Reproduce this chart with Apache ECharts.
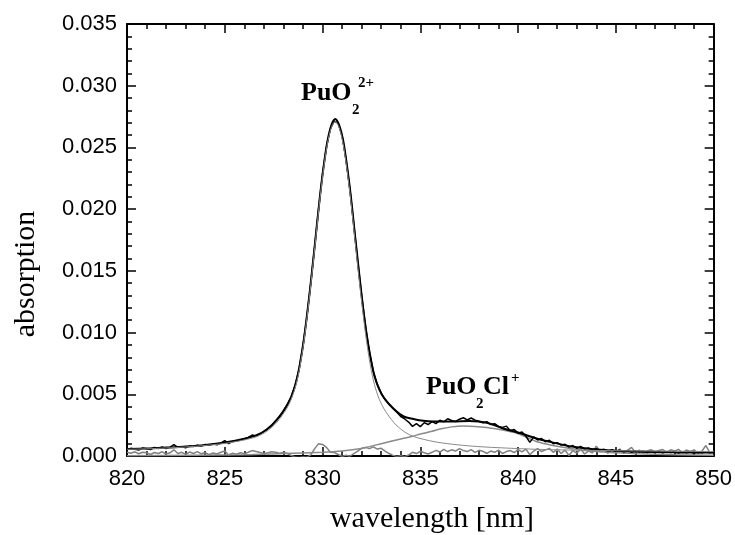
<!DOCTYPE html>
<html>
<head>
<meta charset="utf-8">
<script src="https://cdn.jsdelivr.net/npm/echarts@6/dist/echarts.min.js"></script>
<style>
html,body{margin:0;padding:0;background:#fff;}
#chart{width:735px;height:535px;}
</style>
</head>
<body>
<div id="chart"></div>
<script>
// ---- data ----
const xTicks = [820, 825, 830, 835, 840, 845, 850];
const yTicks = [0.000, 0.005, 0.010, 0.015, 0.020, 0.025, 0.030, 0.035];

// measured spectrum sampled every 0.2 nm, 820.0 ... 850.0 (one row per nm)
const measStart = 820.0, measStep = 0.2;
const measured = [
  0.00050,0.00062,0.00055,0.00048,0.00066, // 820
  0.00058,0.00052,0.00070,0.00061,0.00074, // 821
  0.00060,0.00072,0.00092,0.00070,0.00074, // 822
  0.00066,0.00082,0.00076,0.00088,0.00080, // 823
  0.00094,0.00086,0.00098,0.00090,0.00104, // 824
  0.00125,0.00100,0.00118,0.00122,0.00130, // 825
  0.00138,0.00150,0.00170,0.00162,0.00180, // 826
  0.00200,0.00222,0.00248,0.00285,0.00318, // 827
  0.00366,0.00420,0.00482,0.00575,0.00705, // 828
  0.00895,0.01128,0.01405,0.01700,0.02005, // 829
  0.02285,0.02505,0.02650,0.02715,0.02695, // 830
  0.02595,0.02405,0.02160,0.01875,0.01575, // 831
  0.01300,0.01045,0.00840,0.00685,0.00580, // 832
  0.00510,0.00455,0.00418,0.00385,0.00355, // 833
  0.00320,0.00300,0.00275,0.00240,0.00262, // 834
  0.00238,0.00270,0.00255,0.00278,0.00262, // 835
  0.00290,0.00276,0.00302,0.00288,0.00280, // 836
  0.00298,0.00310,0.00292,0.00308,0.00290, // 837
  0.00282,0.00270,0.00278,0.00255,0.00262, // 838
  0.00240,0.00232,0.00242,0.00205,0.00215, // 839
  0.00185,0.00195,0.00160,0.00110,0.00155, // 840
  0.00130,0.00142,0.00115,0.00128,0.00100, // 841
  0.00108,0.00088,0.00095,0.00072,0.00085, // 842
  0.00062,0.00078,0.00058,0.00066,0.00050, // 843
  0.00060,0.00046,0.00054,0.00040,0.00052, // 844
  0.00038,0.00046,0.00034,0.00044,0.00030, // 845
  0.00040,0.00032,0.00038,0.00028,0.00036, // 846
  0.00030,0.00034,0.00026,0.00034,0.00028, // 847
  0.00032,0.00024,0.00030,0.00026,0.00032, // 848
  0.00024,0.00030,0.00026,0.00034,0.00026, // 849
  0.00030                                  // 850
];

// residual (gray noisy line), same sampling
const residual = [
  0.00030,0.00022,0.00034,0.00018,0.00030, // 820
  0.00026,0.00012,0.00028,0.00020,0.00034, // 821
  0.00016,0.00026,0.00050,0.00020,0.00030, // 822
  0.00014,0.00032,0.00020,0.00036,0.00018, // 823
  0.00028,0.00010,0.00024,0.00016,0.00030, // 824
  0.00040,0.00008,0.00022,0.00014,0.00026, // 825
  0.00018,0.00030,0.00044,0.00036,0.00028, // 826
  0.00020,0.00026,0.00034,0.00030,0.00022, // 827
  0.00028,0.00020,0.00004,-0.00008,-0.00012, // 828
  -0.00006,-0.00010,0.00010,0.00060,0.00100, // 829
  0.00094,0.00070,0.00030,0.00028,0.00012, // 830
  -0.00004,0.00006,-0.00002,0.00020,0.00040, // 831
  0.00062,0.00070,0.00060,0.00074,0.00056, // 832
  0.00062,0.00040,0.00020,0.00005,-0.00004, // 833
  0.00002,-0.00006,0.00008,0.00030,0.00020, // 834
  0.00038,0.00026,0.00016,0.00030,0.00046, // 835
  0.00032,0.00054,0.00036,0.00050,0.00040, // 836
  0.00060,0.00044,0.00036,0.00052,0.00030, // 837
  0.00046,0.00038,0.00022,0.00040,0.00030, // 838
  0.00048,0.00020,0.00036,0.00044,0.00028, // 839
  0.00052,0.00034,0.00056,0.00010,0.00040, // 840
  0.00060,0.00036,0.00050,0.00062,0.00030, // 841
  0.00056,0.00020,0.00048,0.00004,0.00044, // 842
  0.00024,0.00054,0.00016,0.00040,0.00026, // 843
  0.00080,0.00036,0.00044,0.00022,0.00050, // 844
  0.00030,0.00056,0.00020,0.00046,0.00070, // 845
  0.00028,0.00048,0.00024,0.00040,0.00050, // 846
  0.00036,0.00044,0.00052,0.00030,0.00050, // 847
  0.00040,0.00054,0.00026,0.00048,0.00036, // 848
  0.00050,0.00024,0.00040,0.00085,0.00030, // 849
  0.00036                                  // 850
];

// PuO2(2+) component fit (thin gray)
const fit1X = [820,821,822,823,824,825,826,826.65,827.15,827.65,828.15,828.4,828.65,828.85,829.05,829.25,829.45,829.65,829.85,830.05,830.25,830.45,830.65,830.85,831.05,831.25,831.45,831.65,831.85,832.05,832.25,832.45,832.65,832.9,833.15,833.65,834.15,834.65,835.65,836.65,837.65,838.65,840.65,842.65,845.65,850];
const fit1Y = [0.00054,0.00058,0.00065,0.00073,0.00085,0.00102,0.00130,0.00158,0.0020,0.0027,0.0038,0.0046,0.0058,0.0073,0.0093,0.0118,0.0146,0.0176,0.0206,0.0232,0.0253,0.0266,0.0271,0.0266,0.0253,0.0232,0.0206,0.0176,0.0146,0.0118,0.0093,0.0073,0.0058,0.0046,0.0038,0.0027,0.0020,0.00158,0.00118,0.00095,0.0008,0.0007,0.00056,0.00048,0.00042,0.00036];

// PuO2Cl(+) component fit (gray)
const fit2X = [820,826,828,830,831,832,832.4,833,834,834.6,835,835.6,836,836.6,837.2,837.8,838.4,839.2,840,840.9,841.5,842.3,843,844,845,846,848,850];
const fit2Y = [0.00002,0.0001,0.0002,0.0003,0.0004,0.0006,0.00076,0.0010,0.00138,0.0016,0.00178,0.0020,0.00218,0.00236,0.00244,0.0024,0.0023,0.0021,0.0018,0.0012,0.00095,0.0007,0.00052,0.00036,0.00026,0.00018,0.0001,0.00006];

// total fit (black smooth)
const fitTX = [820,821,822,823,824,825,826,826.65,827.15,827.65,828.15,828.4,828.65,828.85,829.05,829.25,829.45,829.65,829.85,830.05,830.25,830.45,830.65,830.85,831.05,831.25,831.45,831.65,831.85,832.05,832.25,832.45,832.65,832.9,833.15,833.65,834.15,834.65,835.15,835.65,836.65,837.5,838.4,839.2,840,840.9,841.5,842.3,843,844,845,846,848,850];
const fitTY = [0.00056,0.0006,0.00068,0.00077,0.0009,0.0011,0.0014,0.0017,0.00215,0.0029,0.0040,0.0048,0.0060,0.0075,0.0095,0.0120,0.0148,0.0178,0.0208,0.0234,0.0255,0.0268,0.0273,0.0268,0.0256,0.0235,0.0210,0.0180,0.0151,0.0123,0.0099,0.0080,0.0065,0.0054,0.0047,0.0038,0.0032,0.0030,0.00285,0.0028,0.0028,0.00284,0.0027,0.00225,0.0019,0.00144,0.0012,0.0009,0.0007,0.00052,0.00042,0.00036,0.0003,0.00028];

// ---- build series data ----
const pairs = (xs, ys) => xs.map((x, i) => [x, ys[i]]);
const sampled = ys => ys.map((y, i) => [+(measStart + i * measStep).toFixed(1), y]);

const chart = echarts.init(document.getElementById('chart'), null, {renderer: 'canvas'});

const axisLineStyle = {color: '#000', width: 2};
function xAx(pos, showLabel) {
  return {
    type: 'value', min: 820, max: 850, interval: 5, position: pos,
    axisLine: {show: true, onZero: false, lineStyle: axisLineStyle},
    axisTick: {show: true, inside: true, length: 9, lineStyle: {color: '#000', width: 1.5}},
    minorTick: {show: true, splitNumber: 5, length: 5, lineStyle: {color: '#000', width: 1.5}},
    axisLabel: {show: showLabel, color: '#000', fontSize: 22, fontFamily: 'Liberation Sans, Arial', margin: 12},
    splitLine: {show: false}, minorSplitLine: {show: false}
  };
}
function yAx(pos, showLabel) {
  return {
    type: 'value', min: 0, max: 0.035, interval: 0.005, position: pos,
    axisLine: {show: true, onZero: false, lineStyle: axisLineStyle},
    axisTick: {show: true, inside: true, length: 9, lineStyle: {color: '#000', width: 1.5}},
    minorTick: {show: true, splitNumber: 5, length: 5, lineStyle: {color: '#000', width: 1.5}},
    axisLabel: {show: showLabel, color: '#000', fontSize: 22, fontFamily: 'Liberation Sans, Arial', margin: 10,
      formatter: v => v.toFixed(3)},
    splitLine: {show: false}, minorSplitLine: {show: false}
  };
}

const serifBold = 'bold 26px "Liberation Serif", "Times New Roman", serif';
const serifBoldSmall = 'bold 15px "Liberation Serif", "Times New Roman", serif';
const titleFont = '30px "Liberation Serif", "Times New Roman", serif';

chart.setOption({
  animation: false,
  backgroundColor: '#fff',
  grid: {left: 127, right: 20, top: 24, bottom: 79, containLabel: false},
  xAxis: [xAx('bottom', true), xAx('top', false)],
  yAxis: [yAx('left', true), yAx('right', false)],
  series: [
    {type: 'line', name: 'residual', data: sampled(residual), showSymbol: false, clip: true,
      lineStyle: {color: '#808080', width: 1.5}},
    {type: 'line', name: 'PuO2Cl+', data: pairs(fit2X, fit2Y), smooth: 0.3, showSymbol: false,
      lineStyle: {color: '#8a8a8a', width: 1.5}},
    {type: 'line', name: 'measured', data: sampled(measured), showSymbol: false,
      lineStyle: {color: '#000', width: 1.5}},
    {type: 'line', name: 'fit', data: pairs(fitTX, fitTY), smooth: 0.3, showSymbol: false,
      lineStyle: {color: '#000', width: 2}},
    {type: 'line', name: 'PuO2 2+', data: pairs(fit1X, fit1Y), smooth: 0.3, showSymbol: false,
      lineStyle: {color: '#8a8a8a', width: 1}}
  ],
  graphic: [
    {type: 'text', left: 301, top: 80, style: {text: 'PuO', font: serifBold, fill: '#000'}},
    {type: 'text', left: 352, top: 103, style: {text: '2', font: serifBoldSmall, fill: '#000'}},
    {type: 'text', left: 358, top: 76, style: {text: '2+', font: serifBoldSmall, fill: '#000'}},
    {type: 'text', left: 426, top: 374, style: {text: 'PuO', font: serifBold, fill: '#000'}},
    {type: 'text', left: 476, top: 397, style: {text: '2', font: serifBoldSmall, fill: '#000'}},
    {type: 'text', left: 483, top: 374, style: {text: 'Cl', font: serifBold, fill: '#000'}},
    {type: 'text', left: 511, top: 371, style: {text: '+', font: serifBoldSmall, fill: '#000'}},
    {type: 'text', x: 26, y: 274, rotation: Math.PI / 2,
      style: {text: 'absorption', font: titleFont, fill: '#000',
        textAlign: 'center', textVerticalAlign: 'middle'}},
    {type: 'text', x: 432, y: 519,
      style: {text: 'wavelength [nm]', font: titleFont, fill: '#000',
        textAlign: 'center', textVerticalAlign: 'middle'}}
  ]
});
</script>
</body>
</html>
